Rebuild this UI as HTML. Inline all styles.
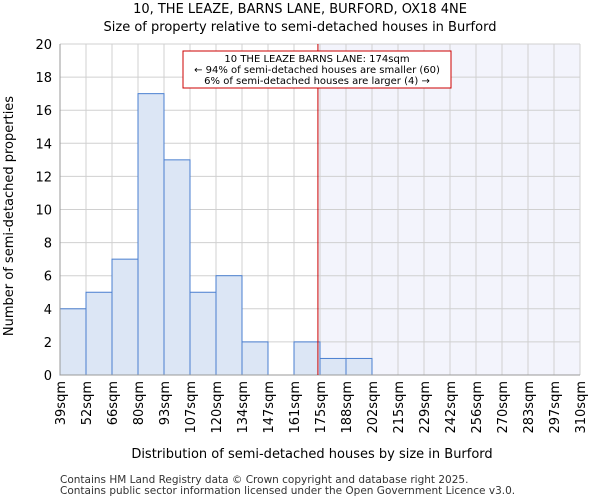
<!DOCTYPE html>
<html><head><meta charset="utf-8"><style>
body{margin:0;background:#fff;font-family:"DejaVu Sans","Liberation Sans",sans-serif}
</style></head><body>
<svg id="c" width="600" height="500" xmlns="http://www.w3.org/2000/svg" font-family="DejaVu Sans, Liberation Sans, sans-serif">
<text x="300" y="13" text-anchor="middle" font-size="13">10, THE LEAZE, BARNS LANE, BURFORD, OX18 4NE</text>
<text x="300" y="31" text-anchor="middle" font-size="13">Size of property relative to semi-detached houses in Burford</text>
<g id="plot"></g>
<text x="312" y="458" text-anchor="middle" font-size="13">Distribution of semi-detached houses by size in Burford</text>
<text transform="translate(13,216) rotate(-90)" text-anchor="middle" font-size="13">Number of semi-detached properties</text>
<text x="60" y="483" font-size="10.5" fill="#333">Contains HM Land Registry data © Crown copyright and database right 2025.</text>
<text x="60" y="494" font-size="10.5" fill="#333">Contains public sector information licensed under the Open Government Licence v3.0.</text>
</svg>
<script>
const binLabels=["39sqm","52sqm","66sqm","80sqm","93sqm","107sqm","120sqm","134sqm","147sqm","161sqm","175sqm","188sqm","202sqm","215sqm","229sqm","242sqm","256sqm","270sqm","283sqm","297sqm","310sqm"];
const counts=[4,5,7,17,13,5,6,2,0,2,1,1,0,0,0,0,0,0,0,0];
const yTicks=[0,2,4,6,8,10,12,14,16,18,20];
const propertyBinPos=9.92;
const NS="http://www.w3.org/2000/svg";
const L=60,R=580,T=44,B=375,yMax=20;
const bw=(R-L)/counts.length;
const xs=i=>L+i*bw;
const ys=v=>B-(v/yMax)*(B-T);
const g=document.getElementById('plot');
function mk(t,a){const e=document.createElementNS(NS,t);for(const k in a)e.setAttribute(k,a[k]);g.appendChild(e);return e;}
const px=xs(propertyBinPos);
let e=mk('rect',{x:px,y:T,width:R-px,height:B-T,fill:'#f3f4fc'});


for(const t of yTicks){
 e=mk('line',{x1:L,x2:R,y1:ys(t),y2:ys(t),stroke:'#d0d0d0'});
 
 
 e=mk('text',{x:L-8,y:ys(t)+5,'text-anchor':'end','font-size':13});
 e.textContent=t;
 
 
}
binLabels.forEach((lb,i)=>{
 e=mk('line',{x1:xs(i),x2:xs(i),y1:T,y2:B,stroke:'#d0d0d0'});
 
 
 e=mk('text',{transform:`translate(${xs(i)+5},${B+6}) rotate(-90)`,'text-anchor':'end','font-size':13});
 e.textContent=lb;
 
 
});
counts.forEach((v,i)=>{
 if(v<=0)return;
 e=mk('rect',{x:xs(i),y:ys(v),width:bw,height:B-ys(v),fill:'#dce6f5',stroke:'#4a7fd0','stroke-width':1});
 
 
});
e=mk('line',{x1:L,x2:R,y1:B,y2:B,stroke:'#999'});


e=mk('line',{x1:L,x2:L,y1:T,y2:B,stroke:'#999'});


e=mk('line',{x1:px,x2:px,y1:T,y2:B,stroke:'#cc0000','stroke-width':1});


e=mk('rect',{x:183,y:51,width:268,height:37,fill:'#fff',stroke:'#cc0000','stroke-width':1});


["10 THE LEAZE BARNS LANE: 174sqm","← 94% of semi-detached houses are smaller (60)","6% of semi-detached houses are larger (4) →"].forEach((s,i)=>{
 e=mk('text',{x:317,y:62+i*11,'text-anchor':'middle','font-size':10});
 e.textContent=s;
 
 
});
</script>
</body></html>
